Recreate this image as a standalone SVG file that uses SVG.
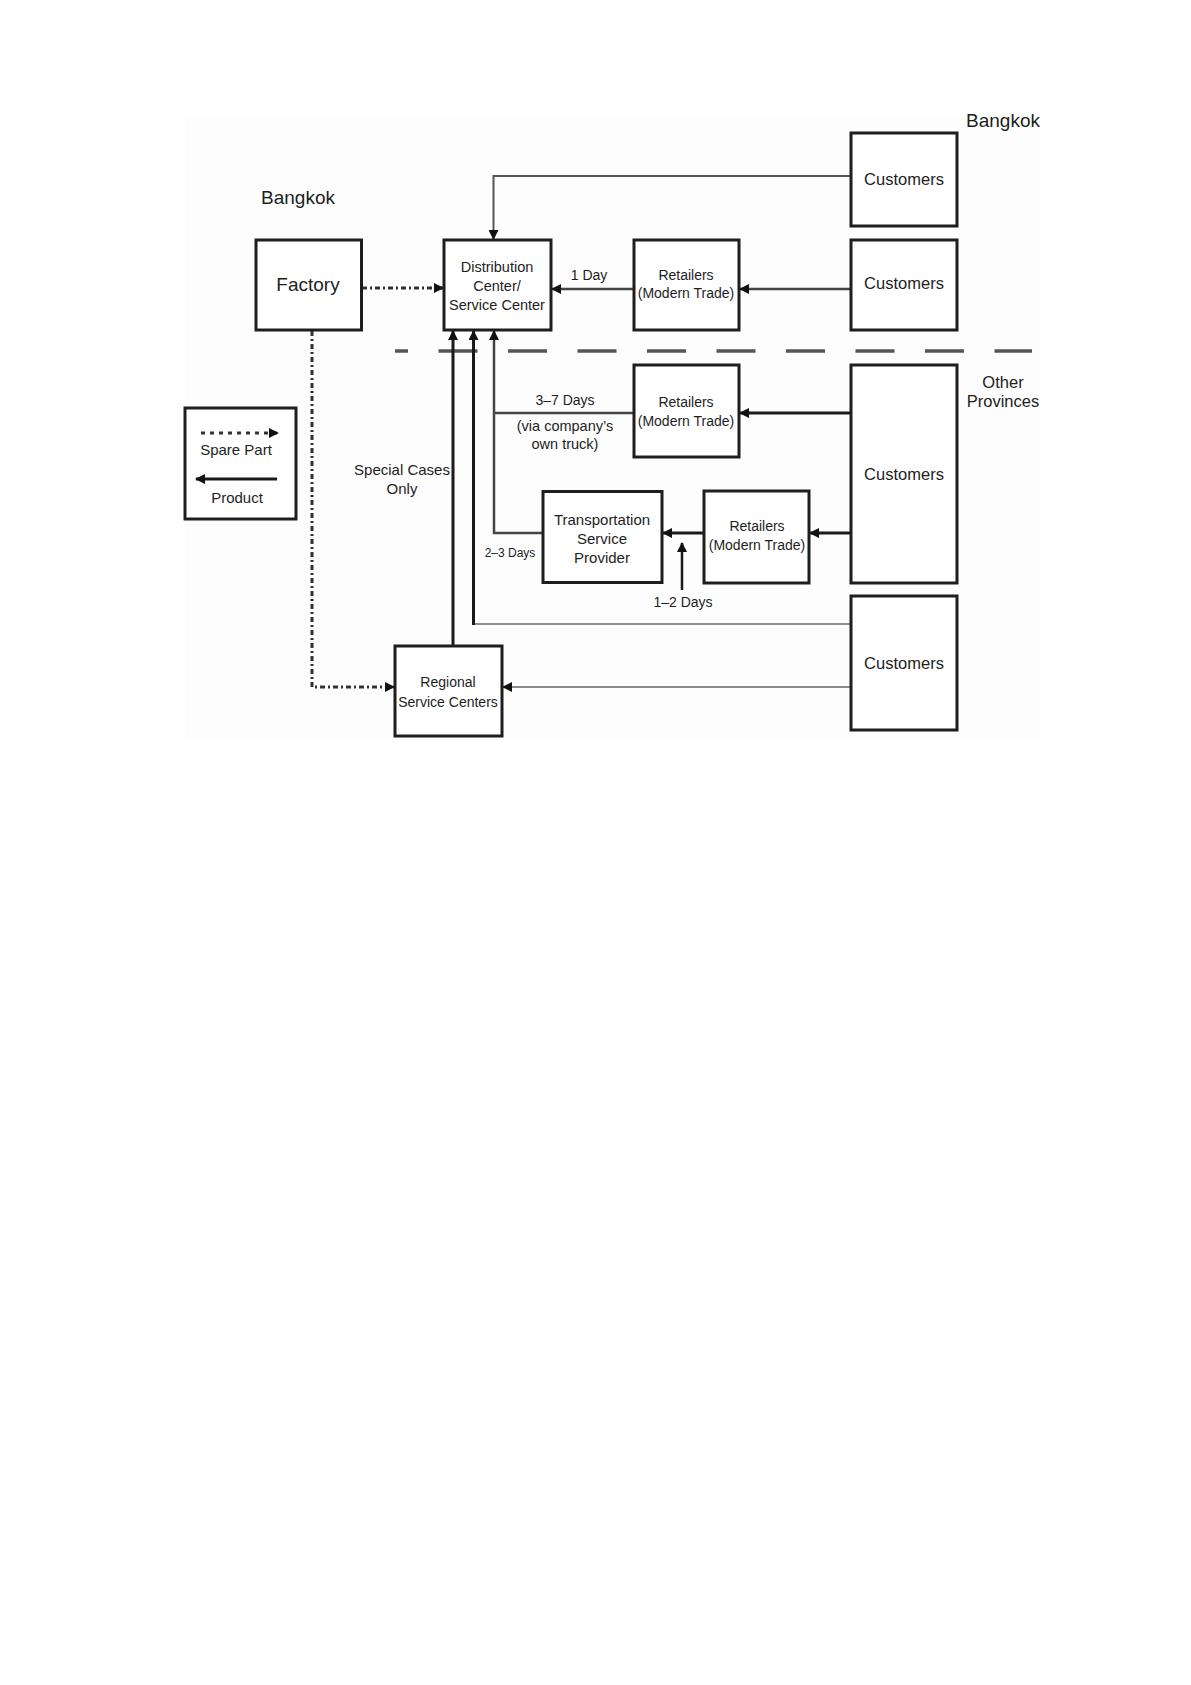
<svg xmlns="http://www.w3.org/2000/svg" width="1191" height="1685" viewBox="0 0 1191 1685">
<style>
  text { font-family: "Liberation Sans", Arial, sans-serif; fill: #1e1e1e; text-anchor: middle; }
  .box { fill: #ffffff; stroke: #1e1e1e; stroke-width: 3; }
  .thick { fill: none; stroke: #1a1a1a; stroke-width: 3; }
  .med { fill: none; stroke: #444; stroke-width: 2.5; }
  .thin { fill: none; stroke: #666; stroke-width: 1.6; }
  .spare { fill: none; stroke: #333; stroke-width: 3; stroke-dasharray: 5 3 2 3; }
  .lbl { font-size: 14px; }
</style>
<defs>
  <marker id="ah" viewBox="0 0 10 10" refX="9" refY="5" markerUnits="userSpaceOnUse" markerWidth="10" markerHeight="10" orient="auto">
    <path d="M0,0 L10,5 L0,10 z" fill="#111"/>
  </marker>
</defs>
<rect x="0" y="0" width="1191" height="1685" fill="#ffffff"/>
<rect x="185" y="115" width="855" height="625" fill="#fdfdfd"/>

<g id="labels">
  <text x="298" y="204" style="font-size:19px">Bangkok</text>
  <text x="1003" y="127" style="font-size:19px">Bangkok</text>
  <text x="1003" y="388" style="font-size:16.5px">Other</text>
  <text x="1003" y="407" style="font-size:16.5px">Provinces</text>
  <text x="589" y="280" class="lbl">1 Day</text>
  <text x="565" y="405" class="lbl">3–7 Days</text>
  <text x="565" y="431" style="font-size:14.5px">(via company’s</text>
  <text x="565" y="449" style="font-size:14.5px">own truck)</text>
  <text x="510" y="557" style="font-size:12px">2–3 Days</text>
  <text x="683" y="607" class="lbl">1–2 Days</text>
  <text x="402" y="475" style="font-size:15px">Special Cases</text>
  <text x="402" y="494" style="font-size:15px">Only</text>
</g>

<g id="dashed-divider">
  <path d="M395,351 H1032" fill="none" stroke="#555" stroke-width="3.5" stroke-dasharray="39 30.5" stroke-dashoffset="26"/>
</g>

<g id="connectors">
  <path class="thin" style="stroke:#555;stroke-width:2" d="M851,176 H493.5 V239" marker-end="url(#ah)"/>
  <path class="spare" d="M362,288 H443" marker-end="url(#ah)"/>
  <path class="med" d="M634,289 H552" marker-end="url(#ah)"/>
  <path class="med" d="M851,289 H740" marker-end="url(#ah)"/>
  <path class="thick" d="M453,646 V331" marker-end="url(#ah)"/>
  <path class="thin" d="M851,624 H473.5"/>
  <path class="thick" d="M473.5,625 V331" marker-end="url(#ah)"/>
  <path class="med" d="M634,413 H494"/>
  <path class="med" d="M543,533 H494 V331" marker-end="url(#ah)"/>
  <path class="thick" d="M851,413 H740" marker-end="url(#ah)"/>
  <path class="thick" d="M851,533 H810" marker-end="url(#ah)"/>
  <path class="thick" d="M704,533 H663" marker-end="url(#ah)"/>
  <path class="thick" style="stroke-width:2.5" d="M682,590 V543" marker-end="url(#ah)"/>
  <path class="spare" d="M312,331 V687 H394" marker-end="url(#ah)"/>
  <path class="thin" style="stroke-width:1.3" d="M851,687 H503" marker-end="url(#ah)"/>
</g>

<g id="factory">
  <rect class="box" x="256" y="240" width="105.5" height="90"/>
  <text x="308" y="291" style="font-size:19px">Factory</text>
</g>

<g id="distribution-center">
  <rect class="box" x="444" y="240" width="107" height="90"/>
  <text x="497" y="272" style="font-size:14.5px">Distribution</text>
  <text x="497" y="291" style="font-size:14.5px">Center/</text>
  <text x="497" y="310" style="font-size:14.5px">Service Center</text>
</g>

<g id="retailers-bkk">
  <rect class="box" x="634" y="240" width="105" height="90"/>
  <text x="686" y="280" class="lbl">Retailers</text>
  <text x="686" y="298" class="lbl">(Modern Trade)</text>
</g>

<g id="customers-bkk-1">
  <rect class="box" x="851" y="133" width="106" height="93"/>
  <text x="904" y="185" style="font-size:16.5px">Customers</text>
</g>

<g id="customers-bkk-2">
  <rect class="box" x="851" y="240" width="106" height="90"/>
  <text x="904" y="289" style="font-size:16.5px">Customers</text>
</g>

<g id="retailers-prov-1">
  <rect class="box" x="634" y="365" width="105" height="92"/>
  <text x="686" y="407" class="lbl">Retailers</text>
  <text x="686" y="426" class="lbl">(Modern Trade)</text>
</g>

<g id="customers-prov">
  <rect class="box" x="851" y="365" width="106" height="218"/>
  <text x="904" y="480" style="font-size:16.5px">Customers</text>
</g>

<g id="transportation">
  <rect class="box" x="543" y="491.5" width="119" height="91"/>
  <text x="602" y="525" style="font-size:15px">Transportation</text>
  <text x="602" y="544" style="font-size:15px">Service</text>
  <text x="602" y="563" style="font-size:15px">Provider</text>
</g>

<g id="retailers-prov-2">
  <rect class="box" x="704" y="491" width="105" height="92"/>
  <text x="757" y="531" class="lbl">Retailers</text>
  <text x="757" y="550" class="lbl">(Modern Trade)</text>
</g>

<g id="customers-prov-2">
  <rect class="box" x="851" y="596" width="106" height="134"/>
  <text x="904" y="669" style="font-size:16.5px">Customers</text>
</g>

<g id="regional">
  <rect class="box" x="395" y="646" width="107" height="90"/>
  <text x="448" y="687" class="lbl">Regional</text>
  <text x="448" y="707" class="lbl">Service Centers</text>
</g>

<g id="legend">
  <rect class="box" x="185" y="408" width="111" height="111"/>
  <path d="M201,433 H278" fill="none" stroke="#333" stroke-width="3" stroke-dasharray="4 5" marker-end="url(#ah)"/>
  <text x="236" y="455" style="font-size:15px">Spare Part</text>
  <path class="thick" d="M277,479 H196" marker-end="url(#ah)"/>
  <text x="237" y="503" style="font-size:15px">Product</text>
</g>
</svg>
